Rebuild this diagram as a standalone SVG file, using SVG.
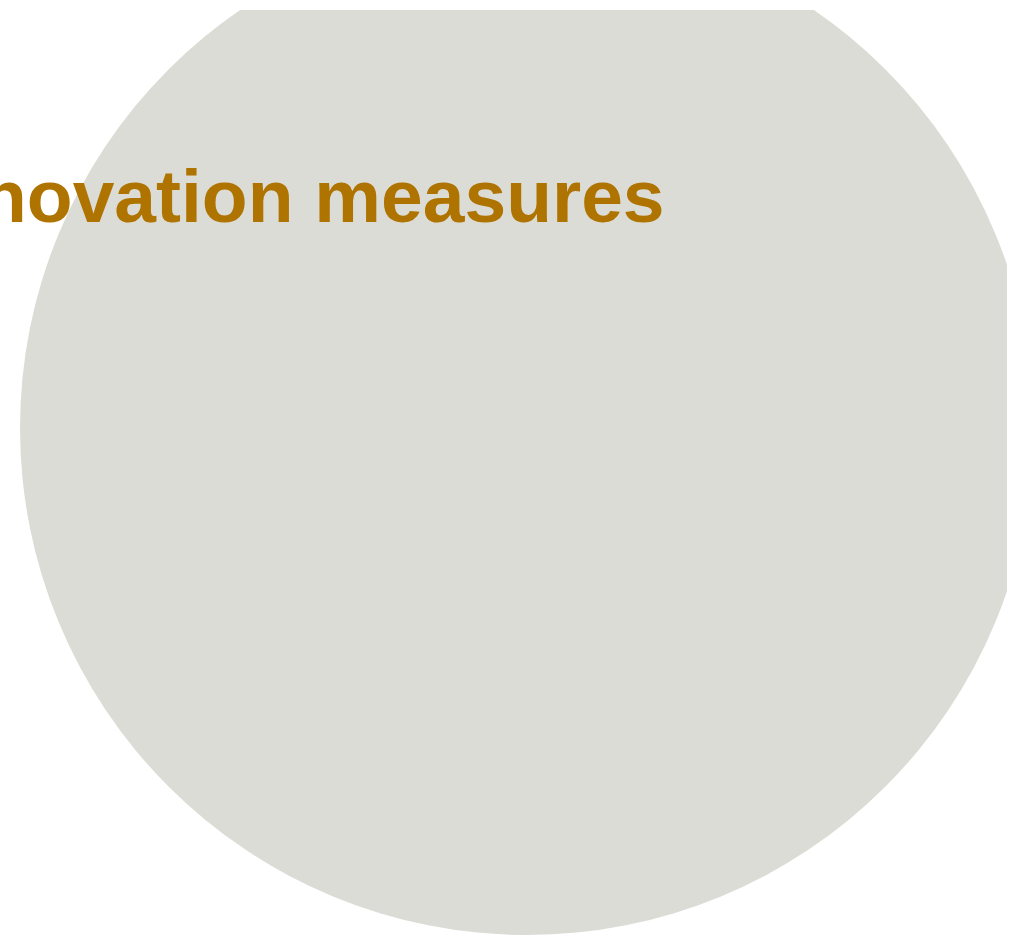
<svg xmlns="http://www.w3.org/2000/svg" width="1010" height="938" viewBox="0 0 1010 938">
  <style>
    .bg { fill: #ffffff; }
    .disc { fill: #DCDCD6; }
    .title { font-family: "Liberation Sans", Arial, sans-serif; font-weight: bold; font-size: 75px; fill: #AF7300; }
  </style>
  <defs>
    <clipPath id="frame">
      <rect x="0" y="10" width="1007" height="928"/>
    </clipPath>
  </defs>
  <rect class="bg" x="0" y="0" width="1010" height="938"/>
  <g id="circle" clip-path="url(#frame)">
    <circle class="disc" cx="527" cy="428" r="507"/>
  </g>
  <g id="title">
    <text class="title" x="-19" y="222">novation measures</text>
  </g>
  <g id="connectors"></g>
</svg>
